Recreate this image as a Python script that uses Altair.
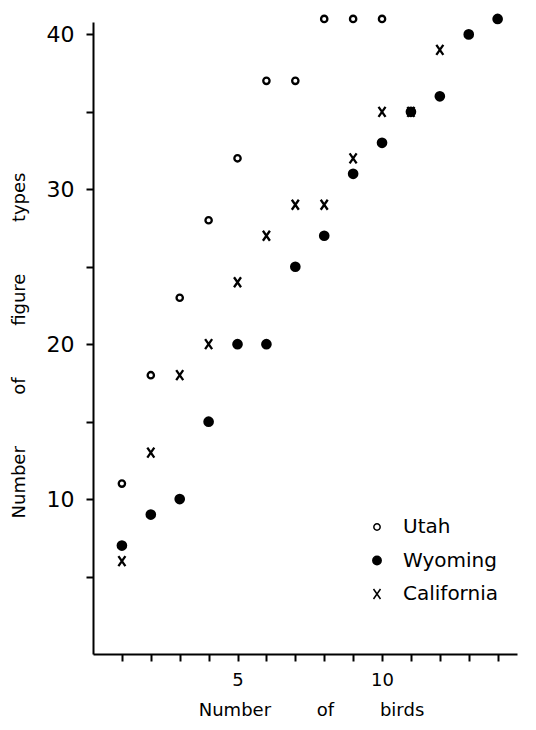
import altair as alt
import pandas as pd

states = ["Utah", "Wyoming", "California"]

utah_birds = [1, 2, 3, 4, 5, 6, 7, 8, 9, 10]
utah_types = [11, 18, 23, 28, 32, 37, 37, 41, 41, 41]

wyoming_birds = [1, 2, 3, 4, 5, 6, 7, 8, 9, 10, 11, 12, 13, 14]
wyoming_types = [7, 9, 10, 15, 20, 20, 25, 27, 31, 33, 35, 36, 40, 41]

california_birds = [1, 2, 3, 4, 5, 6, 7, 8, 9, 10, 11, 12]
california_types = [6, 13, 18, 20, 24, 27, 29, 29, 32, 35, 35, 39]

x_ticks = list(range(1, 15))
y_ticks = [5, 10, 15, 20, 25, 30, 35, 40]

rows = []
for name, xs, ys in [("Utah", utah_birds, utah_types),
                     ("Wyoming", wyoming_birds, wyoming_types),
                     ("California", california_birds, california_types)]:
    for a, b in zip(xs, ys):
        rows.append({"state": name, "birds": a, "types": b})
df = pd.DataFrame(rows)

NB = "\u00a0"
xgap = NB * 8
ygap = NB * 9
x_title = "Number" + xgap + "of" + xgap + "birds"
y_title = "Number" + ygap + "of" + ygap + "figure" + ygap + "types"

xpath = "M-0.7,-1L0.7,1M0.7,-1L-0.7,1"
FONT = "DejaVu Sans"

chart = alt.Chart(df).mark_point(filled=False, stroke="black", strokeWidth=2.3,
                                 opacity=1, clip=False).encode(
    x=alt.X("birds:Q",
            scale=alt.Scale(domain=[0, 14.67], nice=False, zero=False),
            axis=alt.Axis(values=x_ticks, title=x_title,
                          labelExpr="(datum.value == 5 || datum.value == 10) ? datum.label : ''",
                          grid=False, tickSize=7, tickWidth=2, domainWidth=2,
                          domainColor="black", tickColor="black",
                          labelFont=FONT, labelFontSize=18, labelColor="black",
                          labelPadding=10,
                          titleFont=FONT, titleFontSize=18, titleFontWeight="normal",
                          titleColor="black", titleX=218, titleY=56,
                          titleBaseline="middle")),
    y=alt.Y("types:Q",
            scale=alt.Scale(domain=[0, 40.8], nice=False, zero=False),
            axis=alt.Axis(values=y_ticks, title=y_title,
                          labelExpr="(datum.value % 10 == 0) ? datum.label : ''",
                          grid=False, tickSize=7, tickWidth=2, domainWidth=2,
                          domainColor="black", tickColor="black",
                          labelFont=FONT, labelFontSize=22, labelColor="black",
                          labelPadding=12,
                          titleFont=FONT, titleFontSize=18, titleFontWeight="normal",
                          titleColor="black", titleX=-74, titleY=323,
                          titleBaseline="middle", titleAngle=-90)),
    shape=alt.Shape("state:N", scale=alt.Scale(domain=states, range=["circle", "circle", xpath]),
                    legend=alt.Legend(title=None, orient="none", legendX=274, legendY=495,
                                      labelFont=FONT, labelFontSize=20, labelColor="black",
                                      labelFontWeight="normal",
                                      labelOffset=16, rowPadding=13.5, padding=0)),
    fill=alt.Fill("state:N", scale=alt.Scale(domain=states, range=["white", "black", "transparent"])),
    size=alt.Size("state:N", scale=alt.Scale(domain=states, range=[40, 100, 85])),
).properties(
    width=424, height=632,
    autosize=alt.AutoSizeParams(type="none"),
    padding={"left": 93, "top": 22, "right": 19, "bottom": 76},
    background="white",
).configure_view(stroke=None)

chart.save("out.html", embed_options={"renderer": "svg", "actions": False})
